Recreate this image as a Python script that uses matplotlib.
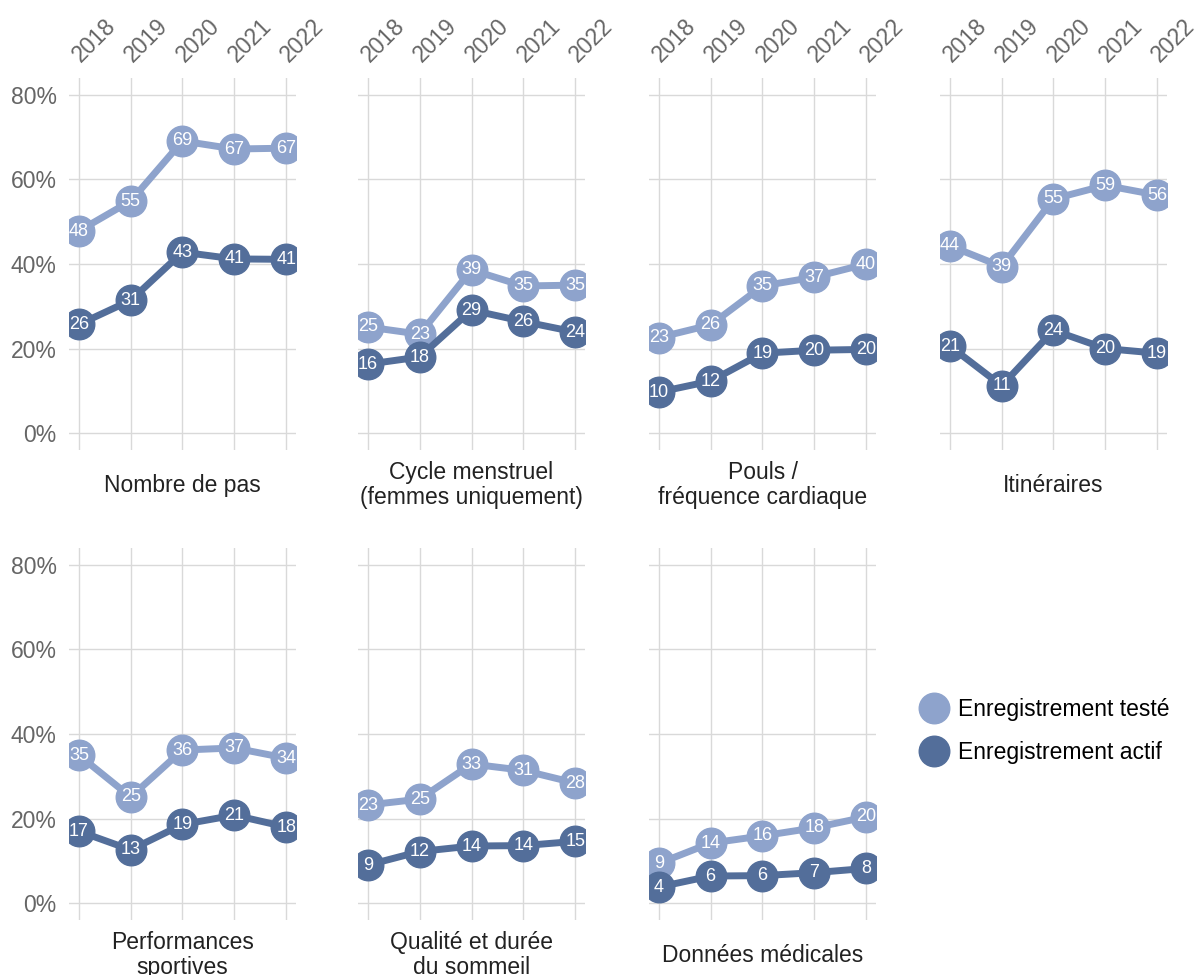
import matplotlib.pyplot as plt
from matplotlib.lines import Line2D
from matplotlib.transforms import ScaledTranslation

plt.rcParams['font.family'] = ['Liberation Sans', 'DejaVu Sans']

years = [2018, 2019, 2020, 2021, 2022]
titles = [
    'Nombre de pas',
    'Cycle menstruel\n(femmes uniquement)',
    'Pouls /\nfréquence cardiaque',
    'Itinéraires',
    'Performances\nsportives',
    'Qualité et durée\ndu sommeil',
    'Données médicales',
]
# share of respondents, %
teste = [
    [47.8, 54.9, 69.1, 67.2, 67.4],
    [25.1, 23.4, 38.6, 34.8, 35.0],
    [22.6, 25.6, 34.8, 36.9, 40.0],
    [44.3, 39.4, 55.4, 58.6, 56.3],
    [35.0, 25.1, 36.2, 36.7, 34.3],
    [23.2, 24.6, 32.9, 31.4, 28.4],
    [9.4, 14.2, 15.9, 17.8, 20.4],
]
actif = [
    [25.7, 31.4, 42.8, 41.2, 41.1],
    [16.3, 18.0, 29.1, 26.4, 23.9],
    [9.7, 12.3, 18.9, 19.6, 19.8],
    [20.6, 11.2, 24.3, 20.0, 18.9],
    [17.0, 12.6, 18.6, 20.8, 18.0],
    [9.0, 12.2, 13.5, 13.6, 14.6],
    [3.8, 6.4, 6.5, 7.2, 8.2],
]
yticks = [0, 20, 40, 60, 80]

c_light = '#8ea3cc'
c_dark = '#536e9a'
grid_c = '#d9d9d9'
tick_c = '#666666'

fig = plt.figure(figsize=(11.98, 9.75), dpi=100)

W, H = 1198, 975
lefts = [69, 358, 649, 940]
width = 227
rows = [(78, 450), (548, 920)]
shift = ScaledTranslation(6 / 100, 0, fig.dpi_scale_trans)

for i in range(7):
    r, c = divmod(i, 4)
    top, bot = rows[r]
    ax = fig.add_axes([lefts[c] / W, 1 - bot / H, width / W, (bot - top) / H])
    ax.set_xlim(2017.81, 2022.19)
    ax.set_ylim(-4, 84)
    ax.set_xticks(years)
    ax.set_yticks(yticks)
    ax.grid(True, color=grid_c, lw=1)
    ax.set_axisbelow(True)
    for s in ax.spines.values():
        s.set_visible(False)
    ax.tick_params(length=0, colors=tick_c, labelsize=16.5)
    if r == 0:
        ax.xaxis.tick_top()
        ax.tick_params(axis='x', pad=8)
        ax.set_xticklabels([str(y) for y in years], rotation=45,
                           ha='left', va='bottom', rotation_mode='anchor')
        for lab in ax.get_xticklabels():
            lab.set_transform(lab.get_transform() + shift)
    else:
        ax.set_xticklabels([])
    if c == 0:
        ax.set_yticklabels([f'{v}%' for v in yticks])
        ax.tick_params(axis='y', pad=9)
    else:
        ax.set_yticklabels([])

    for vals, col in [(teste[i], c_light), (actif[i], c_dark)]:
        ax.plot(years, vals, color=col, lw=5, marker='o', ms=22,
                solid_capstyle='round', zorder=3)
        for x, v in zip(years, vals):
            ax.text(x, v, f'{round(v)}', color='white', ha='center',
                    va='center', fontsize=13, zorder=4)

    ax.text(0.5, -0.095, titles[i], transform=ax.transAxes, ha='center',
            va='center', fontsize=16.5, color='#222222', linespacing=1.12)

handles = [
    Line2D([], [], ls='none', marker='o', ms=22, color=c_light),
    Line2D([], [], ls='none', marker='o', ms=22, color=c_dark),
]
fig.legend(handles, ['Enregistrement testé', 'Enregistrement actif'],
           loc='center left', bbox_to_anchor=(896 / W, 1 - 731 / H),
           frameon=False, fontsize=16.5, handletextpad=0.3,
           labelspacing=0.9, handlelength=1.5)

fig.savefig('out.png', dpi=100)
